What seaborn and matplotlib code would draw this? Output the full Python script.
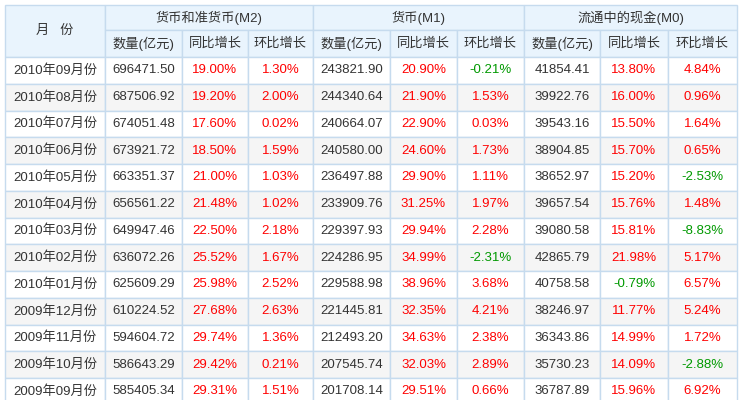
import matplotlib.pyplot as plt
import seaborn as sns
from matplotlib.patches import Rectangle

sns.set_theme(style="white")
plt.rcParams["font.family"] = ["Liberation Sans", "Noto Sans CJK SC", "DejaVu Sans"]

months = ["2010年09月份", "2010年08月份", "2010年07月份", "2010年06月份", "2010年05月份",
          "2010年04月份", "2010年03月份", "2010年02月份", "2010年01月份", "2009年12月份",
          "2009年11月份", "2009年10月份", "2009年09月份"]
m2_amt = ["696471.50", "687506.92", "674051.48", "673921.72", "663351.37", "656561.22", "649947.46",
          "636072.26", "625609.29", "610224.52", "594604.72", "586643.29", "585405.34"]
m2_yoy = [19.00, 19.20, 17.60, 18.50, 21.00, 21.48, 22.50, 25.52, 25.98, 27.68, 29.74, 29.42, 29.31]
m2_mom = [1.30, 2.00, 0.02, 1.59, 1.03, 1.02, 2.18, 1.67, 2.52, 2.63, 1.36, 0.21, 1.51]
m1_amt = ["243821.90", "244340.64", "240664.07", "240580.00", "236497.88", "233909.76", "229397.93",
          "224286.95", "229588.98", "221445.81", "212493.20", "207545.74", "201708.14"]
m1_yoy = [20.90, 21.90, 22.90, 24.60, 29.90, 31.25, 29.94, 34.99, 38.96, 32.35, 34.63, 32.03, 29.51]
m1_mom = [-0.21, 1.53, 0.03, 1.73, 1.11, 1.97, 2.28, -2.31, 3.68, 4.21, 2.38, 2.89, 0.66]
m0_amt = ["41854.41", "39922.76", "39543.16", "38904.85", "38652.97", "39657.54", "39080.58",
          "42865.79", "40758.58", "38246.97", "36343.86", "35730.23", "36787.89"]
m0_yoy = [13.80, 16.00, 15.50, 15.70, 15.20, 15.76, 15.81, 21.98, -0.79, 11.77, 14.99, 14.09, 15.96]
m0_mom = [4.84, 0.96, 1.64, 0.65, -2.53, 1.48, -8.83, 5.17, 6.57, 5.24, 1.72, -2.88, 6.92]

groups = ["货币和准货币(M2)", "货币(M1)", "流通中的现金(M0)"]
sub = ["数量(亿元)", "同比增长", "环比增长"]

xs = [5, 105, 182, 248, 313, 390, 457, 524, 600, 668, 737]
h1, h2, y0, rh = 5, 30, 57, 26.75
border = "#c6dbee"
head_bg = "#e9f4fd"
txt = "#333333"

fig = plt.figure(figsize=(7.43, 4.0), dpi=100)
ax = fig.add_axes([0, 0, 1, 1])
ax.set_xlim(0, 743)
ax.set_ylim(400, 0)
ax.axis("off")


def cell(x0, x1, ya, yb, color):
    ax.add_patch(Rectangle((x0, ya), x1 - x0, yb - ya, facecolor=color, edgecolor=border, lw=1))


# header
cell(xs[0], xs[1], h1, y0, head_bg)
ax.text((xs[0] + xs[1]) / 2, (h1 + y0) / 2, "月   份", ha="center", va="center", fontsize=9.5, color=txt)
for g, name in enumerate(groups):
    xa, xb = xs[1 + 3 * g], xs[4 + 3 * g]
    cell(xa, xb, h1, h2, head_bg)
    ax.text((xa + xb) / 2, (h1 + h2) / 2, name, ha="center", va="center", fontsize=9.5, color=txt)
    for k in range(3):
        ca, cb = xs[1 + 3 * g + k], xs[2 + 3 * g + k]
        cell(ca, cb, h2, y0, head_bg)
        ax.text((ca + cb) / 2, (h2 + y0) / 2, sub[k], ha="center", va="center", fontsize=9.5, color=txt)


def pct_color(v):
    return "#009900" if v < 0 else "#ff0000"


for i, m in enumerate(months):
    ya = y0 + i * rh
    bg = "white" if i % 2 == 0 else "#f5f5f5"
    row = [(m, txt), (m2_amt[i], txt), (f"{m2_yoy[i]:.2f}%", pct_color(m2_yoy[i])),
           (f"{m2_mom[i]:.2f}%", pct_color(m2_mom[i])), (m1_amt[i], txt),
           (f"{m1_yoy[i]:.2f}%", pct_color(m1_yoy[i])), (f"{m1_mom[i]:.2f}%", pct_color(m1_mom[i])),
           (m0_amt[i], txt), (f"{m0_yoy[i]:.2f}%", pct_color(m0_yoy[i])),
           (f"{m0_mom[i]:.2f}%", pct_color(m0_mom[i]))]
    for c, (s, col) in enumerate(row):
        cell(xs[c], xs[c + 1], ya, ya + rh, bg)
        ax.text((xs[c] + xs[c + 1]) / 2, ya + rh / 2, s, ha="center", va="center",
                fontsize=9.5, color=col)

fig.savefig("out.png", dpi=100, facecolor="white")
